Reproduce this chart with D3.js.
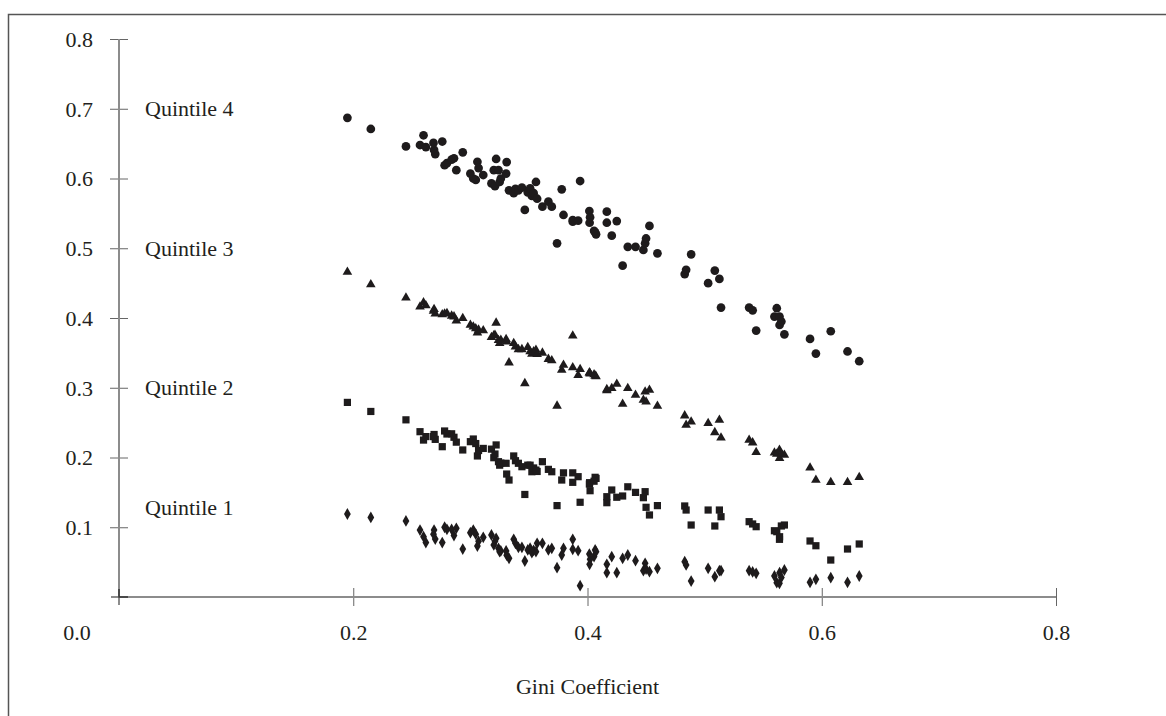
<!DOCTYPE html>
<html>
<head>
<meta charset="utf-8">
<script src="https://cdnjs.cloudflare.com/ajax/libs/d3/7.8.5/d3.min.js"></script>
<style>
  body { margin: 0; background: #fff; }
  svg text { font-family: "Liberation Serif", "Times New Roman", serif; fill: #231f20; }
</style>
</head>
<body>
<div id="chart"></div>
<script>
// Gini coefficient of each country (shared by all four series)
const gini = [
  0.195, 0.215, 0.245, 0.257, 0.260, 0.262, 0.269, 0.270, 0.2685, 0.276,
  0.278, 0.280, 0.284, 0.286, 0.288, 0.2935, 0.300, 0.3025, 0.3046, 0.306,
  0.307, 0.311, 0.318, 0.320, 0.321, 0.322, 0.324, 0.325, 0.326, 0.3305,
  0.331, 0.333, 0.337, 0.3385, 0.341, 0.344, 0.3465, 0.349, 0.351, 0.3525,
  0.354, 0.356, 0.357, 0.3615, 0.3666, 0.3695, 0.374, 0.378, 0.3795, 0.3874,
  0.3874, 0.392, 0.3937, 0.4016, 0.4022, 0.4018, 0.4065, 0.4073, 0.4056, 0.4165,
  0.4165, 0.4207, 0.425, 0.430, 0.4344, 0.441, 0.4477, 0.4492, 0.450, 0.4529,
  0.4597, 0.483, 0.4842, 0.4885, 0.503, 0.5087, 0.5126, 0.514, 0.538, 0.541,
  0.544, 0.5596, 0.5616, 0.5639, 0.564, 0.5681, 0.5655, 0.590, 0.595, 0.6077,
  0.622, 0.632
];

// income share of each quintile, same order as gini
const quintile4 = [
  0.687, 0.671, 0.646, 0.648, 0.662, 0.645, 0.641, 0.635, 0.651, 0.653,
  0.619, 0.622, 0.627, 0.629, 0.612, 0.6375, 0.607, 0.600, 0.598, 0.624,
  0.615, 0.605, 0.593, 0.612, 0.589, 0.628, 0.612, 0.595, 0.600, 0.607,
  0.6235, 0.583, 0.579, 0.585, 0.583, 0.587, 0.555, 0.580, 0.586, 0.575,
  0.579, 0.595, 0.571, 0.5596, 0.5668, 0.5596, 0.507, 0.5845, 0.5477, 0.5405,
  0.538, 0.5395, 0.5964, 0.5534, 0.5444, 0.5366, 0.5229, 0.520, 0.525, 0.5524,
  0.5366, 0.518, 0.539, 0.475, 0.502, 0.502, 0.4975, 0.507, 0.514, 0.532,
  0.4927, 0.463, 0.469, 0.4913, 0.450, 0.468, 0.456, 0.415, 0.415, 0.411,
  0.382, 0.402, 0.414, 0.402, 0.390, 0.3766, 0.395, 0.370, 0.349, 0.381,
  0.352, 0.338
];

const quintile3 = [
  0.466, 0.448, 0.429, 0.416, 0.422, 0.418, 0.4125, 0.406, 0.410, 0.405,
  0.406, 0.4067, 0.403, 0.402, 0.396, 0.3996, 0.390, 0.3875, 0.385, 0.379,
  0.383, 0.382, 0.3723, 0.375, 0.3756, 0.393, 0.368, 0.3637, 0.3685, 0.3695,
  0.366, 0.336, 0.3637, 0.3589, 0.355, 0.355, 0.3063, 0.358, 0.352, 0.3484,
  0.352, 0.354, 0.348, 0.350, 0.341, 0.339, 0.274, 0.3254, 0.3326, 0.3746,
  0.329, 0.318, 0.3265, 0.3216, 0.320, 0.3216, 0.317, 0.316, 0.319, 0.2977,
  0.296, 0.2992, 0.3054, 0.2767, 0.2992, 0.2896, 0.2824, 0.2943, 0.280, 0.2968,
  0.2738, 0.260, 0.2466, 0.2513, 0.249, 0.236, 0.2538, 0.2284, 0.225, 0.2213,
  0.2075, 0.2069, 0.205, 0.2108, 0.1989, 0.2036, 0.205, 0.1854, 0.1677, 0.1644,
  0.1644, 0.1716
];

const quintile2 = [
  0.279, 0.266, 0.254, 0.237, 0.225, 0.230, 0.233, 0.226, 0.230, 0.2155,
  0.238, 0.2337, 0.234, 0.229, 0.222, 0.2108, 0.2227, 0.2265, 0.220, 0.2022,
  0.210, 0.213, 0.212, 0.1997, 0.205, 0.218, 0.194, 0.189, 0.192, 0.1917,
  0.1763, 0.1677, 0.2022, 0.1954, 0.1917, 0.1868, 0.147, 0.189, 0.189, 0.1796,
  0.185, 0.182, 0.180, 0.194, 0.183, 0.1796, 0.131, 0.1677, 0.178, 0.178,
  0.1644, 0.1725, 0.1358, 0.162, 0.1524, 0.1639, 0.1716, 0.170, 0.166, 0.1438,
  0.1352, 0.1534, 0.143, 0.1448, 0.158, 0.150, 0.1424, 0.151, 0.1286, 0.1176,
  0.131, 0.1305, 0.1247, 0.1032, 0.1247, 0.1018, 0.1247, 0.1151, 0.108, 0.1047,
  0.1008, 0.095, 0.0936, 0.0827, 0.0864, 0.1032, 0.1018, 0.0803, 0.0735, 0.053,
  0.0688, 0.076
];

const quintile1 = [
  0.119, 0.114, 0.109, 0.096, 0.0865, 0.078, 0.096, 0.083, 0.090, 0.078,
  0.100, 0.097, 0.097, 0.088, 0.0985, 0.0688, 0.0922, 0.096, 0.090, 0.0731,
  0.080, 0.0856, 0.0889, 0.0746, 0.080, 0.0842, 0.0698, 0.065, 0.066, 0.066,
  0.060, 0.0555, 0.0827, 0.077, 0.0713, 0.0713, 0.0516, 0.0674, 0.070, 0.0635,
  0.067, 0.065, 0.077, 0.077, 0.0674, 0.0698, 0.042, 0.0602, 0.0698, 0.0827,
  0.0684, 0.0664, 0.0162, 0.0616, 0.054, 0.0469, 0.0674, 0.065, 0.058, 0.0469,
  0.0348, 0.0578, 0.0348, 0.0555, 0.0602, 0.052, 0.0377, 0.0483, 0.040, 0.0363,
  0.0411, 0.0506, 0.0459, 0.0229, 0.0411, 0.0291, 0.0377, 0.0377, 0.0377, 0.036,
  0.034, 0.0301, 0.0205, 0.0196, 0.0348, 0.0387, 0.028, 0.021, 0.0254, 0.0277,
  0.021, 0.0301
];

const seriesNames = ["Quintile 1", "Quintile 2", "Quintile 3", "Quintile 4"];
const seriesValues = [quintile1, quintile2, quintile3, quintile4];
const labelValues = [0.128, 0.3, 0.5, 0.7];   // where each series name sits on the y axis
const xTicks = [0.2, 0.4, 0.6, 0.8];
const yTicks = [0.1, 0.2, 0.3, 0.4, 0.5, 0.6, 0.7, 0.8];

const W = 1166, H = 716;
const svg = d3.select("#chart").append("svg")
    .attr("width", W)
    .attr("height", H);

svg.append("rect").attr("width", W).attr("height", H).attr("fill", "#fff");

// chart area frame (top and left edges only are visible)
svg.append("path")
    .attr("d", `M8.5,${H} L8.5,14.5 L${W},14.5`)
    .attr("fill", "none")
    .attr("stroke", "#555")
    .attr("stroke-width", 1.5);

const x = d3.scaleLinear().domain([0, 0.8]).range([119, 1056]);
const y = d3.scaleLinear().domain([0, 0.8]).range([597, 39]);

const axisColor = "#8c8c8c";

// Y axis
const yAxis = svg.append("g")
    .attr("transform", `translate(${x(0)},0)`)
    .call(d3.axisLeft(y).tickValues(yTicks).tickFormat(d3.format(".1f"))
        .tickSizeInner(9).tickSizeOuter(0).tickPadding(17));
yAxis.select(".domain").remove();
yAxis.selectAll(".tick line").attr("x1", 9).attr("stroke", "#666").attr("stroke-width", 1);
yAxis.selectAll(".tick text").style("font-size", "22px").attr("dy", "0.34em");
yAxis.append("line")
    .attr("y1", y(0.8)).attr("y2", y(0) + 8)
    .attr("stroke", axisColor).attr("stroke-width", 2);

// X axis
const xAxis = svg.append("g")
    .attr("transform", `translate(0,${y(0)})`)
    .call(d3.axisBottom(x).tickValues(xTicks).tickFormat(d3.format(".1f"))
        .tickSizeInner(9).tickSizeOuter(0).tickPadding(18));
xAxis.select(".domain").remove();
xAxis.append("line")
    .attr("x1", x(0) - 8).attr("x2", x(0.8))
    .attr("stroke", axisColor).attr("stroke-width", 2);
xAxis.selectAll(".tick line").attr("y1", -9).attr("stroke", "#666").attr("stroke-width", 1);
xAxis.selectAll(".tick text").style("font-size", "22px");
// little dark corner mark at the origin
xAxis.append("path")
    .attr("d", `M${x(0)},-8 L${x(0)},0 L${x(0) + 9},0`)
    .attr("fill", "none").attr("stroke", "#333").attr("stroke-width", 1.5);

// origin label sits off to the left in the original
svg.append("text")
    .attr("x", x(0) - 42)
    .attr("y", y(0) + 43)
    .attr("text-anchor", "middle")
    .style("font-size", "22px")
    .text("0.0");

// X axis title
svg.append("text")
    .attr("x", x(0.4))
    .attr("y", 694)
    .attr("text-anchor", "middle")
    .style("font-size", "22px")
    .text("Gini Coefficient");

// series names
svg.selectAll(".qlabel")
    .data(seriesNames)
    .enter().append("text")
    .attr("class", "qlabel")
    .attr("x", x(0) + 26)
    .attr("y", (d, i) => y(labelValues[i]))
    .attr("dy", "0.34em")
    .style("font-size", "22px")
    .text(d => d);

// markers: diamond, square, triangle, circle
const shapes = [
    d3.symbol().type(d3.symbolDiamond).size(40),
    d3.symbol().type(d3.symbolSquare).size(52),
    d3.symbol().type(d3.symbolTriangle).size(40),
    d3.symbol().type(d3.symbolCircle).size(60)
];
const markColor = "#1e1b1c";

seriesValues.forEach(function (vals, s) {
    svg.append("g")
        .selectAll("path")
        .data(gini.map((g, i) => ({ g: g, v: vals[i] })))
        .enter().append("path")
        .attr("d", shapes[s])
        .attr("transform", d => `translate(${x(d.g)},${y(d.v)})`)
        .attr("fill", markColor);
});
</script>
</body>
</html>
